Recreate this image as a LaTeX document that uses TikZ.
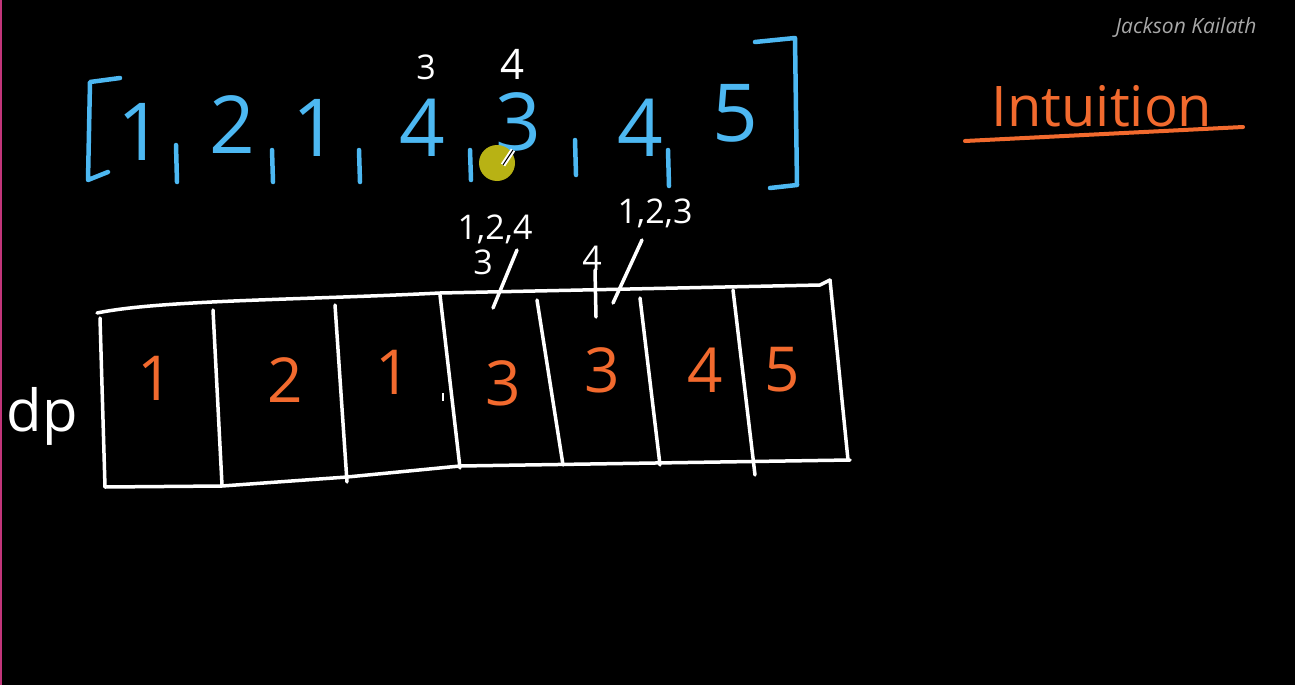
\documentclass[tikz,border=0pt]{standalone}
\usepackage{fontspec}
\setmainfont{Open Sans}
\definecolor{pen}{HTML}{4DB8F2}
\definecolor{ink}{HTML}{F26A2E}
\definecolor{markgray}{HTML}{A8A8A8}
\definecolor{edgepink}{HTML}{C2357A}
\definecolor{cursorcol}{HTML}{B8B214}
\begin{document}
\begin{tikzpicture}[x=1pt,y=-1pt,
 chalk/.style={white,line width=3.5pt,line cap=round,line join=round},
 bluepen/.style={pen,line width=4.5pt,line cap=round,line join=round},
 orangepen/.style={ink,line width=4pt,line cap=round},
 arr/.style={text=pen,font=\fontsize{80}{80}\selectfont,inner sep=0pt},
 cellnum/.style={text=ink,font=\fontsize{62}{62}\selectfont,inner sep=0pt},
 note/.style={text=white,font=\fontsize{34}{34}\selectfont,inner sep=0pt},
]
\fill[black] (0,0) rectangle (1295,685);
\useasboundingbox (0,0) rectangle (1295,685);
\fill[edgepink] (0,0) rectangle (2,685);

% top array
\draw[bluepen] (120,78) -- (90,82) -- (88,180) -- (108,172);
\draw[bluepen] (755,42) -- (795,38) -- (797,185) -- (770,188);
\node[arr] (a1) at (140,132) {1};
\node[arr] (a2) at (232,125) {2};
\node[arr] (a3) at (315,128) {1};
\node[arr] (a4) at (422,128) {4};
\node[arr] (a5) at (518,122) {3};
\node[arr] (a6) at (640,128) {4};
\node[arr] (a7) at (735,113) {5};
\foreach \x/\ya/\yb in {176/145/182,272/150/182,359/150/182,470/150/180,575/140/175,668/150/186}
  \draw[bluepen] (\x,\ya) -- (\x+1,\yb);

% annotations above
\node[note] (t3) at (426,67) {3};
\node[note,font=\fontsize{42}{42}\selectfont] (t4) at (513,64) {4};

% cursor
\fill[cursorcol] (497,163) circle (18);
\draw[white,line width=5pt] (503,165) -- (513,150);
\draw[black,line width=1pt] (503,165) -- (513,150);

% middle annotations
\node[note] (m1) at (495,229) {1,2,4};
\node[note] (m2) at (483,262) {3};
\draw[chalk] (517,250) -- (493,308);
\node[note] (m3) at (592,258) {4};
\draw[chalk] (595,270) -- (596,317);
\node[note] (m4) at (655,213) {1,2,3};
\draw[chalk] (642,240) -- (613,303);

% table
\draw[chalk] (97,313) .. controls (160,300) and (300,300) .. (440,293) -- (820,285) -- (830,280);
\draw[chalk] (105,487) -- (222,486) -- (347,477) -- (460,466) -- (850,460);
\draw[chalk] (100,318) -- (105,487);
\draw[chalk] (213,310) -- (222,485);
\draw[chalk] (335,305) -- (347,482);
\draw[chalk] (440,295) -- (460,468);
\draw[chalk] (537,300) -- (563,465);
\draw[chalk] (640,298) -- (660,465);
\draw[chalk] (733,290) -- (755,475);
\draw[chalk] (830,280) -- (848,460);
\draw[white,line width=1.5pt] (443,393) -- (443,401);

\node[cellnum] (c1) at (155,378) {1};
\node[cellnum] (c2) at (285,380) {2};
\node[cellnum] (c3) at (393,372) {1};
\node[cellnum] (c4) at (503,383) {3};
\node[cellnum] (c5) at (602,370) {3};
\node[cellnum] (c6) at (705,370) {4};
\node[cellnum] (c7) at (782,370) {5};

\node[text=white,font=\fontsize{58}{58}\selectfont,inner sep=0pt] (dp) at (42,416) {dp};

% title
\node[text=ink,font=\fontsize{56}{56}\selectfont,inner sep=0pt] (title) at (1102,106) {Intuition};
\draw[orangepen] (965,141) -- (1243,127);
\node[text=markgray,font=\fontsize{21}{21}\selectfont\itshape,inner sep=0pt] (author) at (1186,27) {Jackson Kailath};
\end{tikzpicture}
\end{document}
